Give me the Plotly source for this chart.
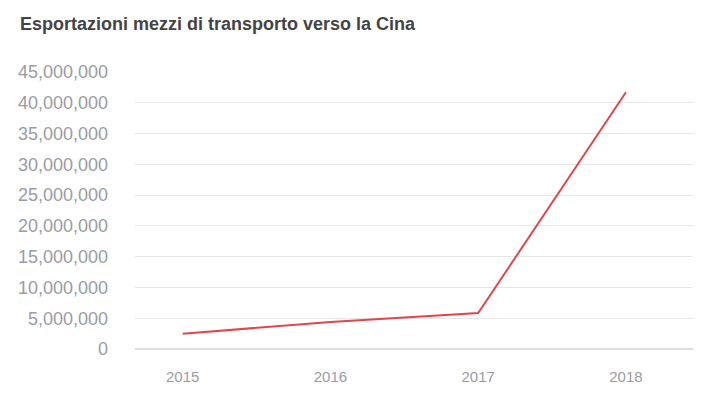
import plotly.graph_objects as go

years = ["2015", "2016", "2017", "2018"]
exports = [2480000, 4400000, 5850000, 41700000]
y_ticks = [0, 5000000, 10000000, 15000000, 20000000, 25000000, 30000000, 35000000, 40000000, 45000000]
y_tick_labels = ["0", "5,000,000", "10,000,000", "15,000,000", "20,000,000", "25,000,000",
                 "30,000,000", "35,000,000", "40,000,000", "45,000,000"]

fig = go.Figure()
fig.add_trace(go.Scatter(
    x=years, y=exports, mode="lines",
    line=dict(color="#e0474c", width=2),
    hoverinfo="x+y",
))

font_family = "Liberation Sans, Arial, sans-serif"

# page body has an 8px margin; figure is sized to sit inside the window
W, H = 700, 378
fig.update_layout(
    width=W, height=H,
    paper_bgcolor="white", plot_bgcolor="white",
    margin=dict(l=127, r=15, t=64, b=37),
    showlegend=False,
    title=dict(
        text="<b>Esportazioni mezzi di transporto verso la Cina</b>",
        x=12 / W, xanchor="left", y=1 - 16 / H, yanchor="middle",
        font=dict(family=font_family, size=18, color="#444444"),
    ),
    xaxis=dict(
        type="category", range=[-0.323, 3.454],
        showgrid=False, zeroline=False, showline=False, automargin=False,
        ticks="", tickfont=dict(family=font_family, size=15, color="#9a9ca3"),
        ticklabelstandoff=17,
    ),
    yaxis=dict(
        range=[0, 45000000], tickvals=y_ticks, ticktext=y_tick_labels,
        showgrid=True, gridcolor="#e6e6e6", gridwidth=1, automargin=False,
        zeroline=True, zerolinecolor="#dddddd", zerolinewidth=2,
        showline=False, ticks="",
        tickfont=dict(family=font_family, size=18, color="#9a9ca3"),
        ticklabelstandoff=26,
    ),
)

fig.write_html("out.html")
